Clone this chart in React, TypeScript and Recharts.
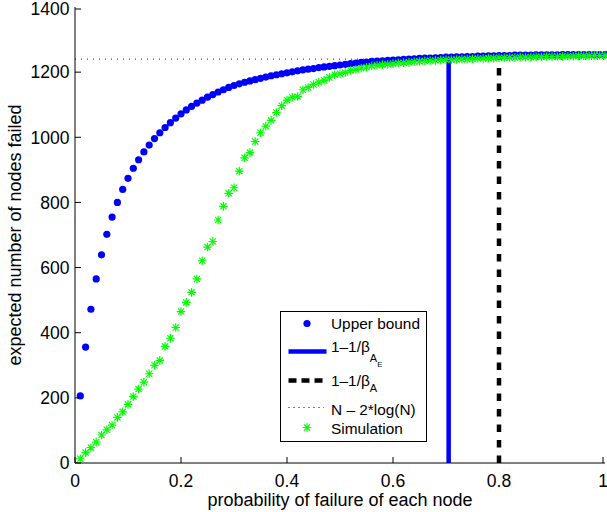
import { ComposedChart, XAxis, YAxis, Scatter, Line, Legend } from "recharts";

const FONT = '"Liberation Sans", Arial, Helvetica, sans-serif';

// probability of failure of each node
const P = [
  0.01, 0.02, 0.03, 0.04, 0.05, 0.06, 0.07, 0.08, 0.09, 0.1,
  0.11, 0.12, 0.13, 0.14, 0.15, 0.16, 0.17, 0.18, 0.19, 0.2,
  0.21, 0.22, 0.23, 0.24, 0.25, 0.26, 0.27, 0.28, 0.29, 0.3,
  0.31, 0.32, 0.33, 0.34, 0.35, 0.36, 0.37, 0.38, 0.39, 0.4,
  0.41, 0.42, 0.43, 0.44, 0.45, 0.46, 0.47, 0.48, 0.49, 0.5,
  0.51, 0.52, 0.53, 0.54, 0.55, 0.56, 0.57, 0.58, 0.59, 0.6,
  0.61, 0.62, 0.63, 0.64, 0.65, 0.66, 0.67, 0.68, 0.69, 0.7,
  0.71, 0.72, 0.73, 0.74, 0.75, 0.76, 0.77, 0.78, 0.79, 0.8,
  0.81, 0.82, 0.83, 0.84, 0.85, 0.86, 0.87, 0.88, 0.89, 0.9,
  0.91, 0.92, 0.93, 0.94, 0.95, 0.96, 0.97, 0.98, 0.99, 1,
];

const UPPER_BOUND = [
  206, 356, 472, 565, 639, 702, 755, 800, 840, 874,
  905, 931, 955, 976, 996, 1014, 1030, 1045, 1059, 1072,
  1084, 1095, 1105, 1114, 1123, 1131, 1139, 1146, 1153, 1159,
  1164, 1169, 1173, 1177, 1181, 1185, 1189, 1192, 1195, 1198,
  1201, 1204, 1207, 1209, 1211, 1214, 1216, 1218, 1220, 1222,
  1224, 1226, 1228, 1230, 1231, 1233, 1234, 1235, 1236, 1237,
  1238, 1239, 1240, 1241, 1242, 1243, 1243, 1244, 1245, 1246,
  1246, 1247, 1247, 1248, 1248, 1249, 1249, 1250, 1250, 1251,
  1251, 1251, 1252, 1252, 1252, 1252, 1253, 1253, 1253, 1253,
  1253, 1254, 1254, 1254, 1254, 1254, 1254, 1254, 1254, 1254,
];

const SIMULATION = [
  13, 32, 47, 64, 86, 102, 116, 140, 157, 180,
  204, 227, 248, 274, 300, 315, 358, 383, 416, 465,
  493, 524, 565, 621, 663, 680, 746, 788, 828, 845,
  896, 937, 953, 987, 1014, 1034, 1052, 1076, 1097, 1114,
  1123, 1125, 1146, 1153, 1162, 1169, 1175, 1184, 1192, 1195,
  1199, 1205, 1208, 1212, 1215, 1219, 1221, 1223, 1224, 1226,
  1228, 1229, 1230, 1232, 1233, 1234, 1235, 1236, 1237, 1238,
  1238, 1239, 1240, 1240, 1241, 1242, 1242, 1243, 1243, 1244,
  1244, 1245, 1245, 1246, 1246, 1246, 1247, 1247, 1248, 1248,
  1248, 1249, 1249, 1249, 1250, 1250, 1250, 1251, 1251, 1251,
];

const BETA_AE_X = 0.705;
const BETA_A_X = 0.8;
const VLINE_TOP = 1240;
const N_MINUS_2LOGN = 1240;

const X_TICKS = [0, 0.2, 0.4, 0.6, 0.8, 1];
const Y_TICKS = [0, 200, 400, 600, 800, 1000, 1200, 1400];

const upperData = P.map((x, i) => ({ x, y: UPPER_BOUND[i] }));
const simData = P.map((x, i) => ({ x, y: SIMULATION[i] }));
const betaAELine = [{ x: BETA_AE_X, y: 0 }, { x: BETA_AE_X, y: VLINE_TOP }];
const betaALine = [{ x: BETA_A_X, y: 0 }, { x: BETA_A_X, y: VLINE_TOP }];
const nLogLine = [{ x: 0, y: N_MINUS_2LOGN }, { x: 1, y: N_MINUS_2LOGN }];

const BLUE = "#0000ff";
const GREEN = "#00ff00";

const Dot = (props: any) => <circle cx={props.cx} cy={props.cy} r={3.6} fill={BLUE} />;

const Star = (props: any) => {
  const { cx, cy } = props;
  const a = 4.3;
  const d = 3.1;
  return (
    <path
      d={`M${cx - a},${cy}H${cx + a}M${cx},${cy - a}V${cy + a}M${cx - d},${cy - d}L${cx + d},${cy + d}M${cx - d},${cy + d}L${cx + d},${cy - d}`}
      stroke={GREEN}
      strokeWidth={1.2}
      fill="none"
    />
  );
};

const BottomTick = ({ x, y, payload }: any) => (
  <g>
    <line x1={x} x2={x} y1={y} y2={y - 6} stroke="#000" />
    <text x={x} y={y + 17.5} dy="0.36em" textAnchor="middle" fontSize={17.5} fontFamily={FONT} fill="#000">
      {payload.value}
    </text>
  </g>
);

const TopTick = ({ x, y }: any) => <line x1={x} x2={x} y1={y} y2={y + 6} stroke="#000" />;

const LeftTick = ({ x, y, payload }: any) => (
  <g>
    <line x1={x} x2={x + 6} y1={y} y2={y} stroke="#000" />
    <text x={x - 5.5} y={y} dy="0.36em" textAnchor="end" fontSize={17.5} fontFamily={FONT} fill="#000">
      {payload.value}
    </text>
  </g>
);

const RightTick = ({ x, y }: any) => <line x1={x} x2={x - 6} y1={y} y2={y} stroke="#000" />;

const YLabel = ({ viewBox }: any) => {
  const cx = viewBox.x + 20.5;
  const cy = viewBox.y + viewBox.height / 2;
  return (
    <text x={cx} y={cy} transform={`rotate(-90 ${cx} ${cy})`} textAnchor="middle" fontSize={18} fontFamily={FONT} fill="#000">
      expected number of nodes failed
    </text>
  );
};

const XLabel = ({ viewBox }: any) => (
  <text x={viewBox.x + viewBox.width / 2} y={viewBox.y + 42.5} textAnchor="middle" fontSize={18} fontFamily={FONT} fill="#000">
    probability of failure of each node
  </text>
);

const LegendBox = () => (
  <svg width={147} height={131} style={{ display: "block", fontFamily: FONT }}>
    <rect x={0.5} y={0.5} width={146} height={130} fill="#fff" stroke="#000" />
    <circle cx={27} cy={12.5} r={3.6} fill={BLUE} />
    <text x={51} y={18} fontSize={15.4} fill="#000">Upper bound</text>

    <line x1={8.5} x2={46.5} y1={40.5} y2={40.5} stroke={BLUE} strokeWidth={4.5} />
    <text x={51} y={40.5} fontSize={15.4} fill="#000">
      1–1/β
      <tspan dy={10} fontSize={11}>A</tspan>
      <tspan dy={5} fontSize={7.5}>E</tspan>
    </text>

    <line x1={8.5} x2={46.5} y1={69.5} y2={69.5} stroke="#000" strokeWidth={4.5} strokeDasharray="8 5" />
    <text x={51} y={74.5} fontSize={15.4} fill="#000">
      1–1/β
      <tspan dy={6} fontSize={11}>A</tspan>
    </text>

    <line x1={8.5} x2={44} y1={96.5} y2={96.5} stroke="#000" strokeWidth={1} strokeDasharray="1 4" />
    <text x={51} y={103.5} fontSize={15.4} fill="#000">N – 2*log(N)</text>

    <Star cx={27} cy={116.5} />
    <text x={51} y={122.5} fontSize={15.4} fill="#000">Simulation</text>
  </svg>
);

export default function App() {
  return (
    <div style={{ width: 607, height: 512, background: "#fff" }}>
      <style>{"body{margin:0}"}</style>
      <ComposedChart width={607} height={512} margin={{ top: 7, right: 2, bottom: 0, left: 0 }}>
        <XAxis
          dataKey="x"
          type="number"
          domain={[0, 1]}
          ticks={X_TICKS}
          height={49}
          tickSize={0}
          tickMargin={0}
          tick={<BottomTick />}
          axisLine={{ stroke: "#000" }}
          label={<XLabel />}
        />
        <XAxis
          xAxisId="top"
          orientation="top"
          type="number"
          domain={[0, 1]}
          ticks={X_TICKS}
          height={0}
          tickSize={0}
          tickMargin={0}
          tick={<TopTick />}
          axisLine={{ stroke: "#000" }}
        />
        <YAxis
          type="number"
          domain={[0, 1400]}
          ticks={Y_TICKS}
          width={75}
          tickSize={0}
          tickMargin={0}
          tick={<LeftTick />}
          axisLine={{ stroke: "#000" }}
          label={<YLabel />}
        />
        <YAxis
          yAxisId="right"
          orientation="right"
          type="number"
          domain={[0, 1400]}
          ticks={Y_TICKS}
          width={0}
          tickSize={0}
          tickMargin={0}
          tick={<RightTick />}
          axisLine={{ stroke: "#000" }}
        />
        <Scatter data={upperData} dataKey="y" shape={<Dot />} isAnimationActive={false} />
        <Line data={betaAELine} dataKey="y" type="linear" stroke={BLUE} strokeWidth={4.5} dot={false} isAnimationActive={false} />
        <Line data={betaALine} dataKey="y" type="linear" stroke="#000" strokeWidth={4.5} strokeDasharray="7.5 8" dot={false} isAnimationActive={false} />
        <Line data={nLogLine} dataKey="y" type="linear" stroke="#222" strokeWidth={1} strokeDasharray="1 5" dot={false} isAnimationActive={false} />
        <Scatter data={simData} dataKey="y" shape={<Star />} isAnimationActive={false} />
        <Legend
          layout="vertical"
          align="center"
          verticalAlign="middle"
          content={() => <LegendBox />}
          wrapperStyle={{ left: 280, top: 311, width: 147, height: 131 }}
        />
      </ComposedChart>
    </div>
  );
}
